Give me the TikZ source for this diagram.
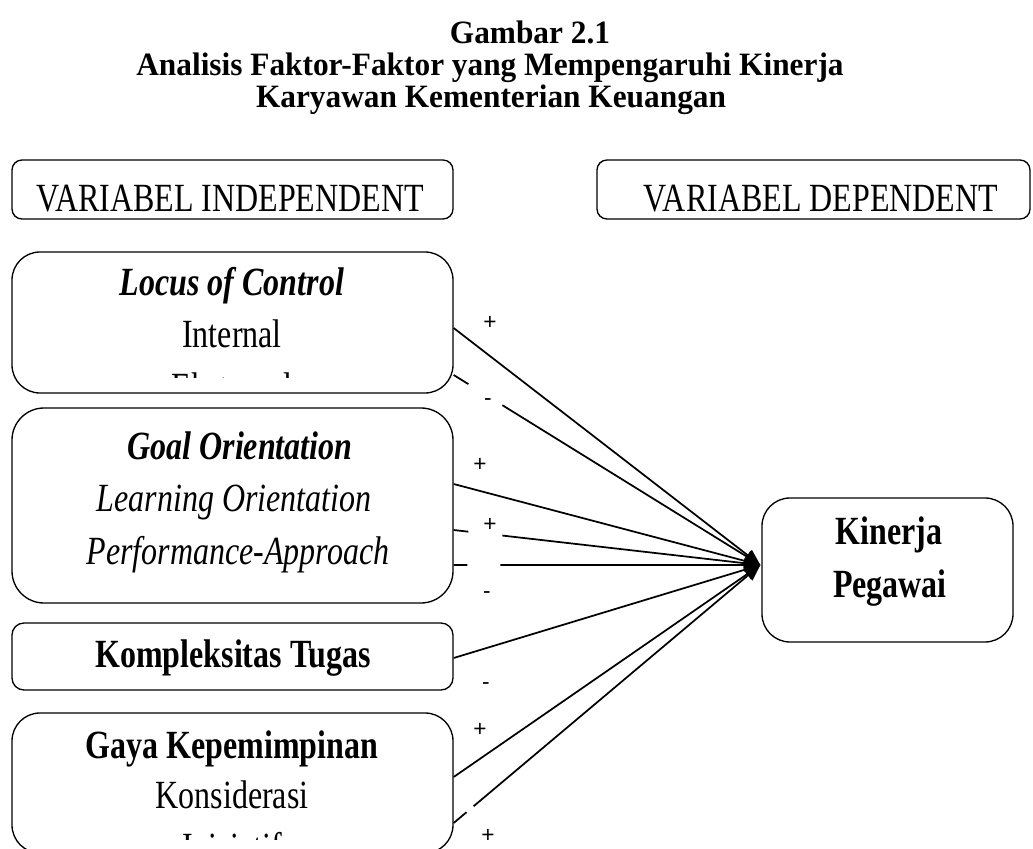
\documentclass[tikz,border=0pt]{standalone}
\usepackage{fontspec}
\setmainfont{Liberation Serif}
\newfontfamily\signfont{Liberation Sans}
\usepackage{graphicx}
\usetikzlibrary{arrows.meta, positioning, calc}

\newcommand{\stretchy}[1]{\scalebox{1}[1.25]{#1}}
\newcommand{\headstretch}[1]{\scalebox{1}[1.04]{#1}}

\tikzset{
  varbox/.style={draw, line width=1pt, rounded corners=#1, inner sep=0pt},
  varbox/.default=7.5pt,
  boxtext/.style={anchor=base, inner sep=0pt, font=\fontsize{24}{28}\selectfont},
  titletext/.style={anchor=base, inner sep=0pt, font=\fontsize{23.5}{28}\selectfont\bfseries},
  sign/.style={inner sep=0pt, font=\signfont\fontsize{17}{19}\selectfont},
  link/.style={line width=1.3pt},
  linkarrow/.style={line width=1.3pt, -{Triangle[length=12pt,width=10pt]}}
}

\begin{document}
\begin{tikzpicture}[x=0.75pt, y=-0.75pt]
  \clip (0,0) rectangle (1033,849);

  % Title
  \node[titletext] (title1) at (530,44) {\headstretch{Gambar 2.1}};
  \node[titletext] (title2) at (490,76) {\headstretch{Analisis Faktor-Faktor yang Mempengaruhi Kinerja}};
  \node[titletext] (title3) at (491,108) {\headstretch{Karyawan Kementerian Keuangan}};

  % Headers
  \node[varbox, minimum width=330.75pt, minimum height=44.25pt] (indep) at (232.5,189.5) {};
  \node[boxtext] (indeptext) at (230,211) {\stretchy{VARIABEL INDEPENDENT}};
  \node[varbox, minimum width=324.75pt, minimum height=44.25pt] (dep) at (813.5,189.5) {};
  \node[boxtext] (deptext) at (821,211) {\stretchy{VARIABEL DEPENDENT}};

  % Locus of control
  \node[varbox=21pt, minimum width=330.75pt, minimum height=105.75pt] (locus) at (232.5,322.5) {};
  \node[boxtext] (locushead) at (232,295) {\stretchy{\textbf{\textit{Locus of Control}}}};
  \node[boxtext] (internal) at (232,347) {\stretchy{Internal}};
  \begin{scope}
    \clip (12,250) rectangle (453,377);
    \node[boxtext] (eksternal) at (232,400) {\stretchy{Eksternal}};
  \end{scope}

  % Goal orientation
  \node[varbox=24pt, minimum width=330.75pt, minimum height=146.25pt] (goal) at (232.5,505.5) {};
  \node[boxtext] (goalhead) at (240,459) {\stretchy{\textbf{\textit{Goal Orientation}}}};
  \node[boxtext] (learning) at (234,511) {\stretchy{\textit{Learning Orientation}}};
  \node[boxtext] (performance) at (238,564) {\stretchy{\textit{Performance-Approach}}};

  % Kompleksitas tugas
  \node[varbox=9pt, minimum width=330.75pt, minimum height=50.25pt] (kompleks) at (232.5,656.5) {};
  \node[boxtext] (kompleksnote) at (233,667) {\stretchy{\textbf{Kompleksitas Tugas}}};

  % Gaya kepemimpinan
  \node[varbox=21pt, minimum width=330.75pt, minimum height=105pt] (gaya) at (232.5,783) {};
  \node[boxtext] (gayahead) at (232,758) {\stretchy{\textbf{Gaya Kepemimpinan}}};
  \node[boxtext] (konsiderasi) at (232,808) {\stretchy{Konsiderasi}};
  \begin{scope}
    \clip (12,700) rectangle (453,839);
    \node[boxtext] (inisiatif) at (232,860) {\stretchy{Inisiatif}};
  \end{scope}

  % Kinerja pegawai
  \node[varbox=21pt, minimum width=188.25pt, minimum height=108pt] (kinerja) at (887.5,570) {};
  \node[boxtext] (kinerjahead) at (889,544) {\stretchy{\textbf{Kinerja}}};
  \node[boxtext] (pegawai) at (890,597) {\stretchy{\textbf{Pegawai}}};

  % Arrows
  \coordinate (tip) at ($(kinerja.west)+(-1,-5)$);
  \coordinate (l1) at ($(locus.east)+(0,5.5)$);
  \coordinate (l2) at ($(locus.east)+(0,52.5)$);
  \coordinate (g1) at ($(goal.east)+(0,-21.5)$);
  \coordinate (g2) at ($(goal.east)+(0,24.5)$);
  \coordinate (g3) at ($(goal.east)+(0,59.5)$);
  \coordinate (k1) at ($(kompleks.east)+(0,1.5)$);
  \coordinate (p1) at ($(gaya.east)+(0,-6)$);
  \coordinate (p2) at ($(gaya.east)+(0,40)$);

  \draw[linkarrow] (l1) -- (tip);
  \draw[link] (l2) -- ($(l2)!0.048!(tip)$);
  \draw[linkarrow] ($(l2)!0.159!(tip)$) -- (tip);
  \draw[linkarrow] (g1) -- (tip);
  \draw[link] (g2) -- ($(g2)!0.048!(tip)$);
  \draw[linkarrow] ($(g2)!0.159!(tip)$) -- (tip);
  \draw[link] (g3) -- ($(g3)!0.045!(tip)$);
  \draw[linkarrow] ($(g3)!0.152!(tip)$) -- (tip);
  \draw[linkarrow] (k1) -- (tip);
  \draw[linkarrow] (p1) -- (tip);
  \draw[link] (p2) -- ($(p2)!0.042!(tip)$);
  \draw[linkarrow] ($(p2)!0.065!(tip)$) -- (tip);

  % Signs
  \node[sign] (s1) at (490,323) {+};
  \node[sign] (s2) at (488,402) {-};
  \node[sign] (s3) at (480,465) {+};
  \node[sign] (s4) at (490,525) {+};
  \node[sign] (s5) at (487,595) {-};
  \node[sign] (s6) at (486,686) {-};
  \node[sign] (s7) at (480,730) {+};
  \node[sign] (s8) at (488,836) {+};
\end{tikzpicture}
\end{document}
